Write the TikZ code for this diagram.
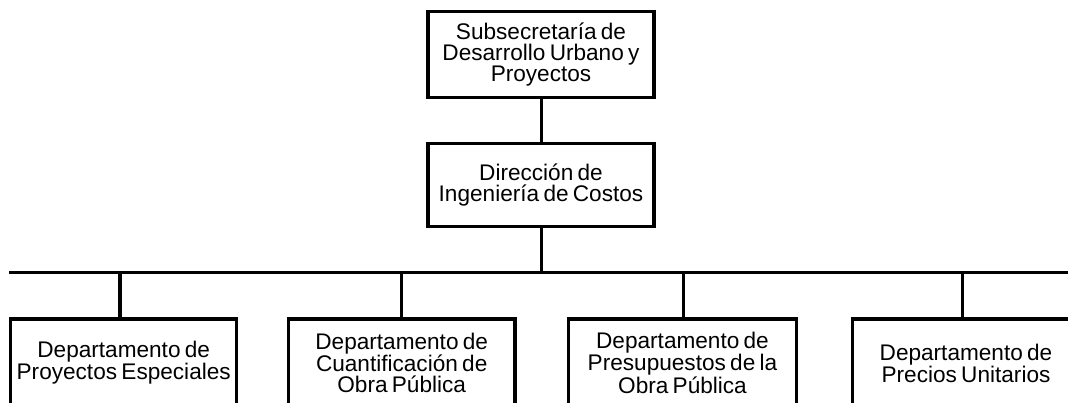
\documentclass[tikz,border=0pt]{standalone}
\usepackage{fontspec}
\setmainfont{Liberation Sans}
\newcommand{\orgboxfont}{\fontsize{22.6pt}{20.8pt}\selectfont\spaceskip=4.3pt plus 1pt minus 0.5pt\relax}
\begin{document}
\begin{tikzpicture}[x=1pt,y=-1pt,
  box/.style={draw=black, line width=3.3pt, fill=white, minimum width=226pt, inner sep=0pt,
    align=center, font=\orgboxfont},
  topbox/.style={box, minimum height=85.6pt},
  midbox/.style={box, minimum height=83.4pt},
  deptbox/.style={box, minimum height=88pt},
  conn/.style={draw=black, line width=3.3pt}]
\useasboundingbox (0,0) rectangle (1068,403);
\clip (0,0) rectangle (1068,403);
\node[topbox] (sub) at (541,54.5) {Subsecretaría de\\Desarrollo Urbano y\\Proyectos};
\node[midbox] (dir) at (541,185) {Dirección de\\Ingeniería de Costos};
\coordinate (busl) at (9,272.5);
\coordinate (busr) at (1075,272.5);
\coordinate (bc) at (541.7,272.5);
\coordinate (d1) at (120,272.5);
\coordinate (d2) at (401.7,272.5);
\coordinate (d3) at (683.3,272.5);
\coordinate (d4) at (962.7,272.5);
\node[deptbox, minimum width=226pt] (p1) at (123.7,363) {Departamento de\\Proyectos Especiales};
\node[deptbox, minimum width=226.7pt] (p2) at (401.7,363) {Departamento de\\Cuantificación de\\Obra Pública};
\node[deptbox, minimum width=228pt] (p3) at (682.5,363) {Departamento de\\Presupuestos de la\\Obra Pública};
\node[deptbox, minimum width=227pt] (p4) at (966,363) {Departamento de\\Precios Unitarios};
\draw[conn] (sub.south -| bc) -- (dir.north -| bc);
\draw[conn] (dir.south -| bc) -- (bc);
\draw[conn] (busl) -- (busr);
\draw[conn] (d1) -- (d1 |- p1.north);
\draw[conn] (d2) -- (d2 |- p2.north);
\draw[conn] (d3) -- (d3 |- p3.north);
\draw[conn] (d4) -- (d4 |- p4.north);
\end{tikzpicture}
\end{document}
